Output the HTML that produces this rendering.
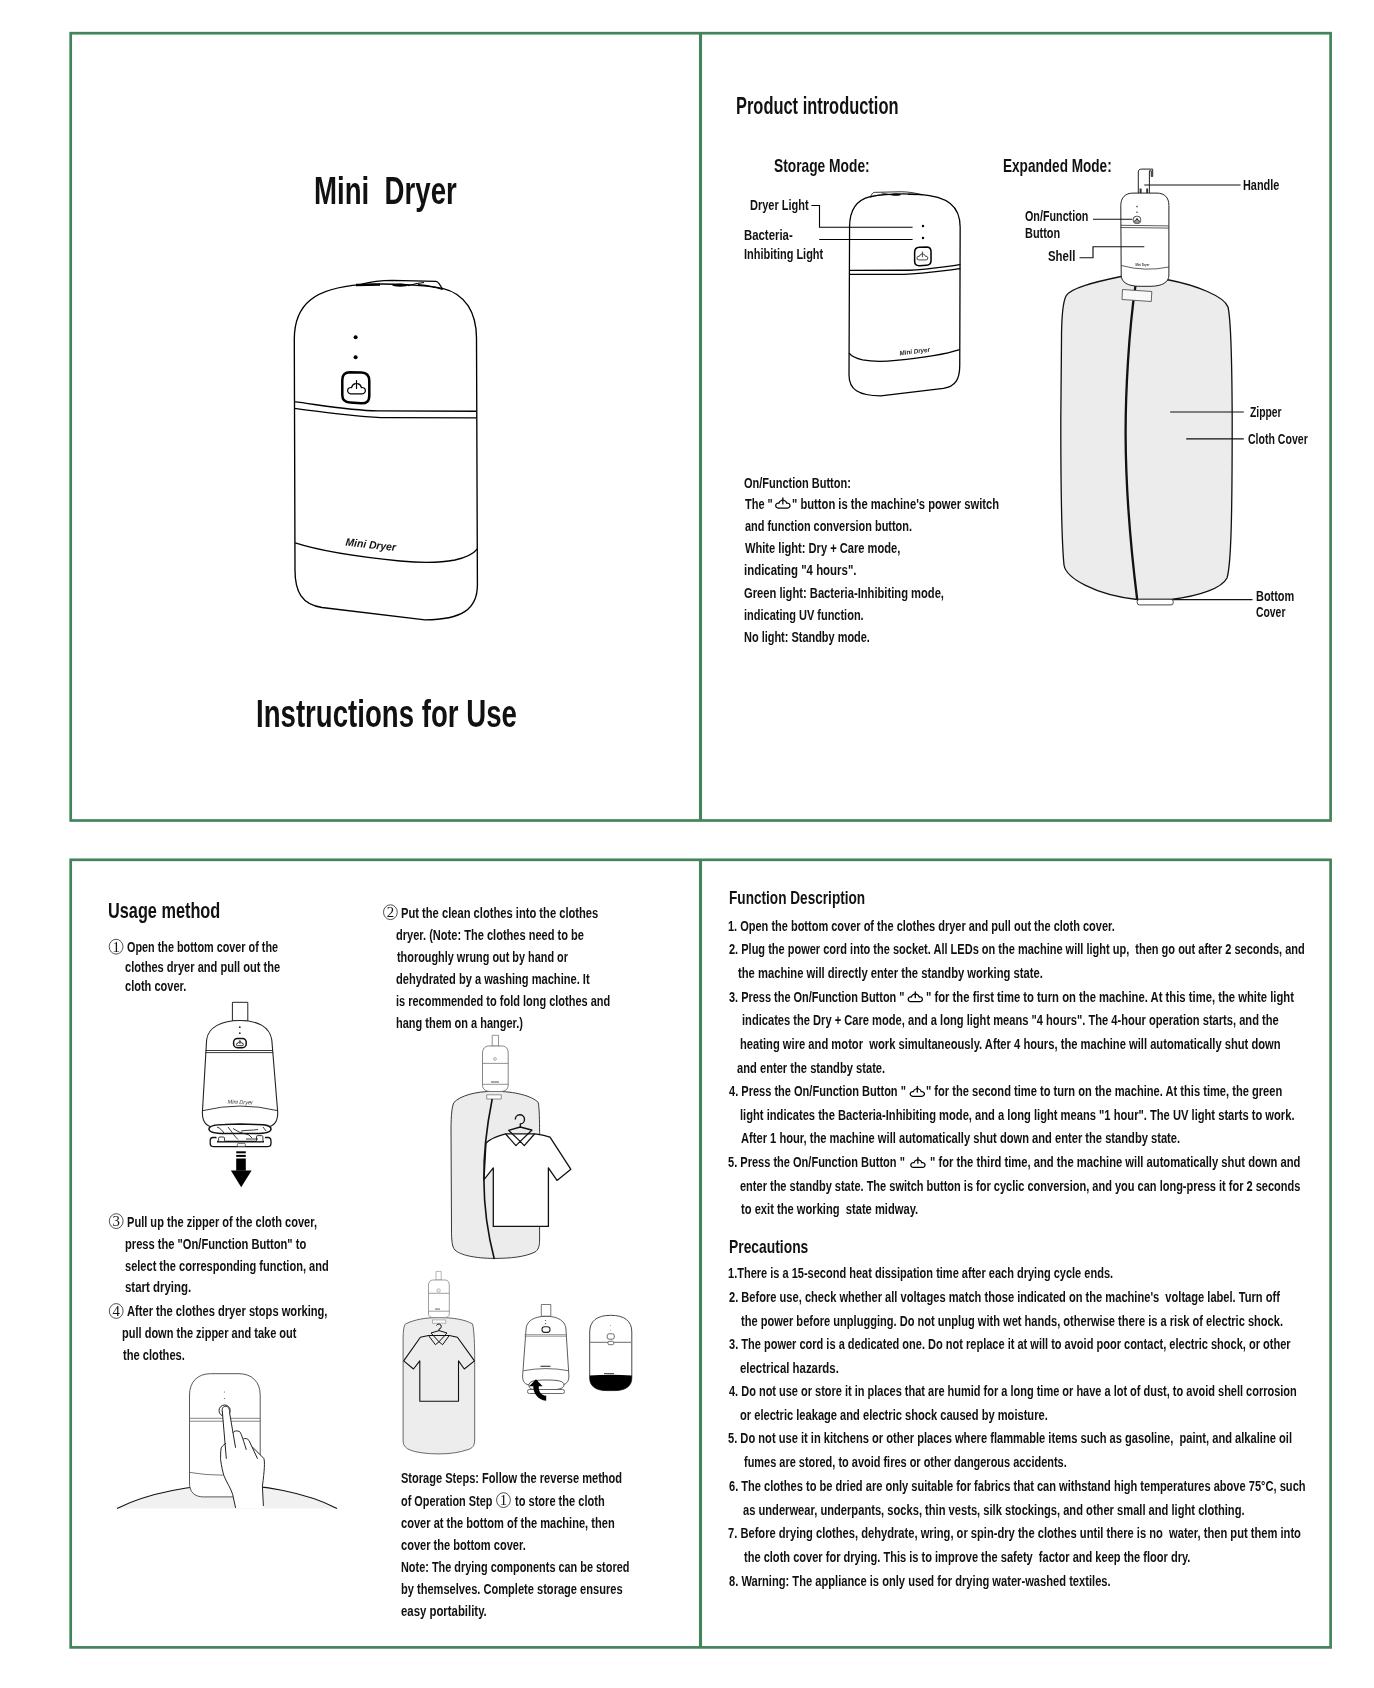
<!DOCTYPE html>
<html><head><meta charset="utf-8"><title>Mini Dryer - Instructions for Use</title>
<style>
html,body{margin:0;padding:0;background:#fff;}
body{width:1374px;height:1688px;position:relative;overflow:hidden;font-family:"Liberation Sans",sans-serif;}
.t{position:absolute;white-space:nowrap;font-weight:bold;line-height:1;color:#111;transform-origin:0 0;filter:grayscale(1);}
svg.art{position:absolute;left:0;top:0;will-change:transform;}
</style></head><body>
<svg class="art" width="1374" height="1688" viewBox="0 0 1374 1688">

<defs>
<symbol id="pw" viewBox="0 0 18 14" preserveAspectRatio="none" overflow="visible">
<path d="M10.2 3.35 A5 5 0 0 1 13.91 7.23 A3.1 3.1 0 1 1 14.8 13.3 L3.2 13.3 A3.1 3.1 0 1 1 4.09 7.23 A5 5 0 0 1 7.8 3.35 M9 0.2 V8" fill="none" stroke="#000" stroke-linejoin="round" stroke-linecap="round"/>
</symbol>
<g id="dev">
<path d="M294.3 340 C294 303 316 288 361 284.6 C390 283 425 285 442.5 288.3 C466 294 476.3 313 476.5 338 L477.4 585 C477.4 609 462 619.8 425 619.8 L322 607.5 C302 604.5 295 592 295 570 Z" fill="#fff"/>
<path d="M360.9 284.4 C370 282 380 280.4 392 280.3 L435.9 281.3 C438.5 281.6 440.5 285 442.4 289.6" fill="none" stroke-width="1.3"/>
<path d="M356 285 L380 284.6" fill="none" stroke-width="2.3"/>
<ellipse cx="400.2" cy="285.1" rx="8" ry="1.7" fill="#000" stroke="none"/>
<path d="M408 285.6 C414 284 418 283 424 282.5 M418 284.6 C428 285.5 436 287 442.4 289.6" fill="none" stroke-width="1.1"/>

<path d="M294 401.7 C320 405 350 410.5 378 410.9 L476.4 411.2 M294 408.3 C325 412 355 417 387 417.7 L476.4 417.8" fill="none"/>
<path d="M295.2 542.9 C320 551 360 557 400 561 C420 563 440 563 455 560 C468 557 474 553 477.4 548.8" fill="none"/>
<path d="M342.3 380 C342.3 374.5 345 372.3 350 372.3 L361.5 372.6 C366.8 372.8 369.3 375.5 369.3 381 L369.3 395.5 C369.3 401.5 366.5 403.6 361 403.3 L350 402.6 C345 402.3 342.3 399.8 342.3 395 Z" fill="none" stroke-width="2.5"/>
<use href="#pw" x="347.5" y="380.3" width="18" height="14.2" stroke-width="1.2"/>
<circle cx="355.6" cy="337.3" r="2" fill="#000" stroke="none"/>
<circle cx="355.6" cy="357.3" r="2" fill="#000" stroke="none"/>
</g>
</defs>

<g>
<!-- frames -->
<g fill="none" stroke="#44845b" stroke-width="2.7">
<rect x="70.7" y="33.2" width="1259.9" height="787.3"/>
<line x1="700.5" y1="33.2" x2="700.5" y2="820.5" stroke-width="3.1"/>
<rect x="70.7" y="859.8" width="1259.9" height="787.6"/>
<line x1="700.5" y1="859.8" x2="700.5" y2="1647.4" stroke-width="3.1"/>
</g>
<!-- big device -->
<use href="#dev" stroke="#000" stroke-width="1.35" fill="none"/>
<text x="0" y="0" transform="translate(345.3 545.6) rotate(6.2)" font-family="Liberation Sans" font-weight="bold" font-style="italic" font-size="10.8" fill="#111" textLength="50.5" lengthAdjust="spacingAndGlyphs">Mini Dryer</text>
<!-- storage mode device (mirrored) -->
<use href="#dev" stroke="#000" stroke-width="2.1" fill="none" transform="matrix(-0.607 0 0 0.601 1138.8 23.3)"/>
<text x="0" y="0" transform="translate(899.8 355.4) rotate(-7)" font-family="Liberation Sans" font-weight="bold" font-style="italic" font-size="6.6" fill="#222" textLength="30.6" lengthAdjust="spacingAndGlyphs">Mini Dryer</text>
<!-- storage mode leaders -->
<g fill="none" stroke="#000" stroke-width="1.1">
<path d="M811.4 205.5 H819.5 V227.3 H912.6"/>
<path d="M819.2 239.5 H912.6"/>
</g>
</g>

<!-- ===== Expanded mode ===== -->
<g stroke-linejoin="round">
<path d="M1121 276.5 C1095 282 1070 288 1066 296 C1062 304 1061.5 320 1061.5 340 L1060.8 420 C1060.8 480 1061.5 540 1064 565 C1066 578 1095 595 1137 599.5 L1171 599.5 C1200 596 1222 588 1227 578 C1231 565 1232.2 520 1232.2 420 C1232 360 1231 320 1228 307 C1224 296 1195 285 1169 280 Z" fill="#ececec" stroke="#111" stroke-width="1.3"/>
<path d="M1135.4 286.2 C1129 330 1125.5 390 1125.6 434.7 C1125.8 490 1131 550 1137.2 599.5" fill="none" stroke="#111" stroke-width="2.3"/>
<path d="M1122.5 289.5 L1151.8 291.5 L1151.3 301.5 L1122 299.5 Z" fill="#f9f9f9" stroke="#555" stroke-width="0.9"/>
<rect x="1137.2" y="599.3" width="36" height="5.6" rx="2.2" fill="#fff" stroke="#333" stroke-width="0.9"/>
<!-- handle -->
<path d="M1138.3 193.3 V172 C1138.3 170.2 1139.4 169.1 1141.2 169.1 H1152.7 V176.4 H1151.3 V170.8 H1149.4 V193.5" fill="#fff" stroke="#222" stroke-width="1"/>
<rect x="1139.6" y="188.5" width="2" height="4.8" fill="#333"/>
<rect x="1146.2" y="188.5" width="1.9" height="4.8" fill="#333"/>
<!-- device -->
<path d="M1120.8 205.5 C1120.8 197.5 1125.5 193.1 1133 193.1 L1157 193.1 C1164.5 193.1 1168.9 197.5 1168.9 205.5 L1168.9 275 C1168.9 282.5 1162 286.3 1150 286.3 L1140 286.3 C1128 286.3 1121.2 282.5 1121.2 275 Z" fill="#fff" stroke="#222" stroke-width="1"/>
<path d="M1120.8 225.3 L1168.9 225.9 M1120.8 227.5 L1168.9 228.1 M1121.2 265.5 Q1145 272 1168.9 267" fill="none" stroke="#333" stroke-width="0.8"/>
<circle cx="1137" cy="206.6" r="0.8" fill="#444"/><circle cx="1137" cy="212.2" r="0.8" fill="#444"/>
<rect x="1133.3" y="216.3" width="7.4" height="7.2" rx="3" fill="#fff" stroke="#333" stroke-width="0.9"/>
<use href="#pw" x="1134.6" y="218.3" width="4.8" height="3.9" stroke-width="3"/>
<text x="1135.4" y="266.3" font-family="Liberation Sans" font-weight="bold" font-size="3.6" fill="#333" textLength="14" lengthAdjust="spacingAndGlyphs">Mini Dryer</text>
</g>
<g fill="none" stroke="#111" stroke-width="1.15">
<path d="M1144.3 185 H1240.6"/>
<path d="M1093 219.2 H1132.3"/>
<path d="M1079.5 257.7 H1093 V246.7 H1144.3"/>
<path d="M1170.2 412 H1243.8"/>
<path d="M1186.2 438.9 H1243.8"/>
<path d="M1173 599.6 H1252.5"/>
</g>

<!-- ===== Step 1 device with arrow ===== -->
<g stroke-linejoin="round">
<rect x="232.4" y="1002.3" width="15.4" height="18.6" fill="#fff" stroke="#222" stroke-width="1"/>
<path d="M206.6 1040 C208 1027 222 1020.5 240 1020.5 C258 1020.5 270 1027 271.8 1040 L277.7 1112 C278 1122 274 1126.5 266 1127 L214 1127 C206 1126.5 202.2 1122 202.4 1112 Z" fill="#fff" stroke="#222" stroke-width="1.1"/>
<path d="M205.6 1050.5 H273 M205.5 1052.6 H273.2 M203 1110.6 Q240 1101.5 277.5 1110.6" fill="none" stroke="#222" stroke-width="0.9"/>
<circle cx="239.8" cy="1027.2" r="0.9" fill="#222"/><circle cx="239.8" cy="1033.2" r="0.9" fill="#222"/>
<rect x="233.6" y="1038.5" width="12.6" height="9.2" rx="3.8" fill="#fff" stroke="#111" stroke-width="1.5"/>
<use href="#pw" x="236.4" y="1040.3" width="7" height="5.7" stroke-width="2"/>
<text x="0" y="0" transform="translate(227.5 1103.6) rotate(2)" font-family="Liberation Sans" font-style="italic" font-size="5.6" fill="#333" textLength="25.5" lengthAdjust="spacingAndGlyphs">Mini Dryer</text>
<path d="M213 1137.5 L268 1137.5 C270.5 1137.5 271 1139 271 1141.5 L271 1143.5 C271 1145.5 269.5 1146.7 267 1146.7 L214 1146.7 C211.5 1146.7 210.2 1145.5 210.2 1143.5 L210.2 1141 C210.2 1139 211 1137.5 213 1137.5 Z" fill="#fff" stroke="#111" stroke-width="1.3"/>
<path d="M215 1133 L266 1133 L264 1141.8 L218 1141.8 Z" fill="#fff"/>
<path d="M217 1141.6 L264 1141.6" stroke="#111" stroke-width="1.6"/>
<rect x="218.6" y="1137" width="5.9" height="4.6" rx="1.2" fill="#fff" stroke="#222" stroke-width="0.9"/>
<rect x="256.5" y="1135.6" width="6.4" height="6" rx="1.2" fill="#fff" stroke="#222" stroke-width="0.9"/>
<rect x="237.4" y="1143.4" width="8" height="3" rx="1" fill="#fff" stroke="#333" stroke-width="0.7"/>
<path d="M209 1129 C209 1125.5 215 1124.6 225 1124.5 L240 1124 L256 1124.5 C266 1124.6 271 1125.5 271 1129 C271 1132.5 266 1133.5 256 1133.6 L225 1133.6 C215 1133.5 209 1132.5 209 1129 Z" fill="#fff" stroke="#111" stroke-width="1.5"/>
<path d="M217 1127 C220 1128 222 1130 224 1133.2 M228 1127 C232 1132 235 1137 238 1139.5 M233 1128.5 L239 1132 L249 1135 L252 1138 M241 1131 C246 1130 252 1130.5 258 1129.5 M263 1127 L266 1131 M246 1139 L258 1139" fill="none" stroke="#222" stroke-width="0.9"/>
<rect x="236.2" y="1151.3" width="9.6" height="2" fill="#000"/>
<rect x="236.2" y="1154.9" width="9.6" height="2" fill="#000"/>
<rect x="236.2" y="1158.5" width="9.6" height="12.2" fill="#000"/>
<path d="M230.9 1170.4 L251.6 1170.4 L241.2 1187.2 Z" fill="#000"/>
</g>

<!-- ===== Hand pressing ===== -->
<path d="M117 1508.4 C150 1492 195 1485 227 1484.7 C262 1485 305 1492 337 1508.4 Z" fill="#f1f1f1"/>
<path d="M117 1508.4 C150 1492 195 1485 227 1484.7 C262 1485 305 1492 337 1508.4" fill="none" stroke="#111" stroke-width="1.1"/>
<path d="M210.5 1373.7 L239 1373.7 C252 1373.7 260.2 1382 260.2 1395 L260.2 1483 C260.2 1492 255 1496.9 246 1496.9 L203.5 1496.9 C194.5 1496.9 189.5 1492 189.5 1483 L189.5 1395 C189.5 1382 197.5 1373.7 210.5 1373.7 Z" fill="#fff" stroke="#444" stroke-width="0.9"/>
<path d="M189.5 1418.3 H260.2 M189.5 1421.2 H260.2" fill="none" stroke="#777" stroke-width="0.9"/>
<path d="M189.5 1472.4 Q205 1475.2 223.5 1475.2" fill="none" stroke="#555" stroke-width="0.8"/>
<circle cx="224.4" cy="1392" r="0.6" fill="#555"/><circle cx="224.4" cy="1398.5" r="0.6" fill="#555"/>
<circle cx="224.6" cy="1410.6" r="5.6" fill="#fff" stroke="#222" stroke-width="1"/>
<path d="M222.3 1411.3 C221.5 1408 223.5 1406 225.9 1406.3 C228.5 1406.5 229.8 1409 229.6 1412.9 L233.2 1432.5 C234 1430.5 237 1430.5 239.5 1431.5 C241 1433 242 1436 243.5 1438.8 C245 1438 247.5 1438.5 249 1440.5 L252.5 1447.1 L263.8 1458.4 C265 1462 264.5 1470 262.4 1486.3 L263.4 1508 L235.5 1508 L232.6 1494.2 C231 1489 227 1483 223.9 1475.6 C222.5 1471 221.5 1466 220.6 1459.7 C220.6 1458 220.5 1452 221 1449.1 C221 1447 223 1445.5 225.6 1443.5 Z" fill="#fff"/>
<g fill="none" stroke="#222" stroke-width="1" stroke-linecap="round">
<path d="M222.3 1411.3 C221.5 1408 223.5 1406 225.9 1406.3 C228.5 1406.5 229.8 1409 229.6 1412.9 L235.5 1447.4"/>
<path d="M222.3 1411.3 L226.3 1458.4"/>
<path d="M233.2 1432.5 C234 1430.5 237 1430.5 239.5 1431.5 C241 1433 242 1436 246.2 1449.4"/>
<path d="M243.5 1438.8 C245 1438 247.5 1438.5 249 1440.5 L257.4 1458.4"/>
<path d="M252.5 1447.1 L263.8 1458.4 C265 1462 264.5 1470 262.4 1486.3 L263.4 1505.5"/>
<path d="M225.6 1443.5 C223 1445.5 221 1447 221 1449.1 C220.5 1452 220.6 1458 220.6 1459.7 C221.5 1466 222.5 1471 223.9 1475.6 C227 1483 231 1489 232.6 1494.2 L235.5 1507.5"/>
</g>

<!-- ===== Step 2 bag with shirt ===== -->
<g stroke-linejoin="round">
<rect x="492.2" y="1035.3" width="6.3" height="10.9" fill="#fff" stroke="#777" stroke-width="0.8"/>
<path d="M454 1102.4 C460 1096 475 1091.3 494.3 1091.3 C515 1091.3 532 1096 538.2 1102.4 C540 1110 539.6 1140 539.6 1170 L539.6 1240 C539.6 1247 538 1250 535 1252 C525 1257 510 1258.4 494.3 1258.4 C475 1258.4 460 1255 455 1250 C452 1247 451.5 1240 451.5 1230 L451 1130 C451 1115 452 1106 454 1102.4 Z" fill="#ececec" stroke="#222" stroke-width="0.9"/>
<path d="M488.5 1046 L502.5 1046 C506 1046 508.2 1049 508.2 1053 L508.2 1085 C508.2 1089.5 505 1091.5 500 1091.5 L491 1091.5 C486 1091.5 482.5 1089.5 482.5 1085 L482.5 1053 C482.5 1049 485 1046 488.5 1046 Z" fill="#fff" stroke="#666" stroke-width="0.8"/>
<path d="M482.5 1063.4 H508.2 M482.5 1084.3 H508.2" fill="none" stroke="#777" stroke-width="0.8"/>
<circle cx="495" cy="1059" r="1.4" fill="none" stroke="#777" stroke-width="0.6"/>
<rect x="491" y="1081.5" width="8" height="1" fill="#555"/>
<rect x="486.7" y="1094.8" width="14.6" height="4.2" fill="#fff" stroke="#666" stroke-width="0.7"/>
<path d="M486 1143 C490 1139 497 1136 505.5 1133.8 L534.7 1133.8 C540 1134.5 546 1135.5 550 1137.2 L570.9 1169.3 L557 1180.4 L548.4 1167.9 L548.4 1226.4 L493.3 1226.4 L493.3 1167.9 L484 1179.7 Z" fill="#fff" stroke="#111" stroke-width="1.3"/>
<path d="M492.2 1099 C486 1130 483.5 1160 483.9 1180 C484 1210 488 1235 494.3 1259" fill="none" stroke="#111" stroke-width="1.6"/>
<path d="M505.5 1133.8 L515.9 1145.6 L520.2 1141.4 L524.3 1145.6 L534.7 1133.8 M508.5 1130.3 L520.2 1141.4 L531.8 1130.3" fill="none" stroke="#111" stroke-width="1.3"/>
<path d="M515.3 1119.5 A4.6 4.6 0 1 1 520.3 1124 L520.3 1127.3 M508.5 1130.3 L520.3 1127 L532.4 1130.3" fill="none" stroke="#111" stroke-width="1.4"/>
</g>

<!-- ===== Storage: small bag with shirt ===== -->
<g stroke-linejoin="round">
<rect x="436" y="1271.4" width="5.2" height="8.6" fill="#fff" stroke="#999" stroke-width="0.7"/>
<path d="M405.5 1323.9 C415 1319.5 425 1317.6 439 1317.6 C453 1317.6 465 1319.5 472.5 1323.9 C474.2 1330 474.7 1345 474.7 1360 L474.7 1440 C474.7 1446 472 1448.5 468 1449.5 C460 1452.5 450 1453.9 439 1453.9 C428 1453.9 415 1452.5 409 1449.5 C405 1447.5 403.1 1445 403.1 1440 L403.1 1340 C403.1 1330 404 1325.5 405.5 1323.9 Z" fill="#ededed" stroke="#444" stroke-width="0.8"/>
<path d="M433 1280 L445 1280 C447.8 1280 449.3 1282 449.3 1285 L449.3 1314 C449.3 1316.5 447.5 1317.6 444 1317.6 L434 1317.6 C430.5 1317.6 428.5 1316.5 428.5 1314 L428.5 1285 C428.5 1282 430 1280 433 1280 Z" fill="#fff" stroke="#777" stroke-width="0.7"/>
<path d="M428.5 1293.3 H449.3 M428.5 1311.2 H449.3" fill="none" stroke="#888" stroke-width="0.8"/>
<rect x="437" y="1289" width="3.2" height="3" rx="1" fill="none" stroke="#888" stroke-width="0.6"/>
<rect x="435" y="1308.6" width="5" height="0.9" fill="#555"/>
<rect x="432.5" y="1319.9" width="13.3" height="3.4" fill="#fafafa" stroke="#888" stroke-width="0.6"/>
<path d="M420.4 1337.2 L403.7 1360.9 L413.5 1369 L419.8 1360.9 L419.8 1401.3 L458.5 1401.3 L458.5 1360.9 L464.3 1369 L474.5 1360.9 L457.4 1337.2 L449.3 1335.5 L428.5 1335.5 Z" fill="none" stroke="#111" stroke-width="1.1"/>
<path d="M428.5 1335.5 L435.4 1344.7 L439 1341.8 L442.6 1344.7 L449.3 1335.5 M431 1333 L439 1341.8 L447 1333" fill="none" stroke="#111" stroke-width="1"/>
<path d="M436.5 1325.5 A2.5 2.5 0 1 1 439 1329 L439 1331 M431 1333 L439 1330.6 L447 1333" fill="none" stroke="#111" stroke-width="1"/>
</g>

<!-- ===== Storage: device A with arrow ===== -->
<g stroke-linejoin="round">
<rect x="541.3" y="1304.5" width="9.5" height="11.8" fill="#fff" stroke="#555" stroke-width="0.8"/>
<path d="M526 1330 C526 1321 534 1316.3 546 1316.3 C558 1316.3 566 1321 566 1330 L568.9 1376 C568.9 1382 566 1385 560 1385 L531 1385 C525 1385 522.6 1382 522.6 1376 Z" fill="#fff" stroke="#333" stroke-width="0.8"/>
<path d="M524.5 1334.7 H567 M524.5 1336.2 H567" fill="none" stroke="#777" stroke-width="0.8"/>
<circle cx="545.5" cy="1320.5" r="0.6" fill="#444"/><circle cx="545.5" cy="1323.6" r="0.6" fill="#444"/>
<rect x="542" y="1326.7" width="8" height="5.7" rx="2.6" fill="#fff" stroke="#222" stroke-width="1.1"/>
<rect x="540.5" y="1365.7" width="10" height="1.2" fill="#444"/>
<path d="M523.5 1370.7 Q546 1366.5 568.5 1370.7" fill="none" stroke="#444" stroke-width="0.8"/>
<path d="M529 1386 C528 1381 535 1380 546 1380 C558 1380 564 1381 564 1385 C564 1389 557 1390 546 1390 C536 1390 529 1390 529 1386 Z" fill="#fff" stroke="#333" stroke-width="0.8"/>
<rect x="527.5" y="1389.5" width="37" height="4" rx="1.8" fill="#fff" stroke="#444" stroke-width="0.8"/>
<path d="M536 1379.2 L529.2 1386.2 L533.3 1386.2 C533 1392.5 537.5 1400 546.2 1400.8 L546.2 1395.8 C541 1395.3 538.3 1391.2 538.8 1386.2 L542.6 1386.2 Z" fill="#000"/>
</g>

<!-- ===== Storage: device B ===== -->
<g stroke-linejoin="round">
<path d="M589.7 1332 C589.7 1321 597 1315.3 610.7 1315.3 C624.5 1315.3 631.8 1321 631.8 1332 L631.8 1378 C631.8 1386 626 1390.6 614 1390.6 L607 1390.6 C595.5 1390.6 589.7 1386 589.7 1378 Z" fill="#fff" stroke="#333" stroke-width="0.9"/>
<path d="M589.7 1342.3 H631.8" fill="none" stroke="#888" stroke-width="1.2"/>
<circle cx="610.6" cy="1325.6" r="0.5" fill="#888"/><circle cx="610.6" cy="1330" r="0.5" fill="#888"/>
<rect x="607.2" y="1333.8" width="7.1" height="5.4" rx="2" fill="#fff" stroke="#444" stroke-width="0.8"/>
<rect x="608" y="1341.3" width="5.6" height="3.4" rx="1.2" fill="#fff" stroke="#444" stroke-width="0.8"/>
<rect x="604" y="1373" width="10" height="1.1" fill="#555"/>
<path d="M589.7 1375.6 Q610.7 1374 631.8 1375.6 L631.8 1378 C631.8 1386 626 1390.6 614 1390.6 L607 1390.6 C595.5 1390.6 589.7 1386 589.7 1378 Z" fill="#000"/>
</g>

<!-- ===== circled numbers ===== -->
<g fill="none" stroke="#333" stroke-width="0.85">
<ellipse cx="116.1" cy="946.7" rx="6.9" ry="7.4"/>
<ellipse cx="390.4" cy="912.2" rx="6.9" ry="7.4"/>
<ellipse cx="116.2" cy="1221.1" rx="6.9" ry="7.4"/>
<ellipse cx="116.2" cy="1311" rx="6.9" ry="7.4"/>
<ellipse cx="503.45" cy="1500.1" rx="6.9" ry="7.4"/>
</g>
<g font-family="Liberation Serif" font-size="14.8" fill="#111" text-anchor="middle">
<text x="116.1" y="951.6">1</text>
<text x="390.4" y="917.1">2</text>
<text x="116.2" y="1226">3</text>
<text x="116.2" y="1315.9">4</text>
<text x="503.45" y="1505">1</text>
</g>
<!-- inline power icons -->
<use href="#pw" x="775.6" y="497.6" width="14.5" height="11" stroke-width="1.55"/>
<use href="#pw" x="908.1" y="991.6" width="14.4" height="10.6" stroke-width="1.6"/>
<use href="#pw" x="910.1" y="1086.2" width="14.4" height="10.6" stroke-width="1.6"/>
<use href="#pw" x="910.7" y="1157.3" width="14.4" height="10.6" stroke-width="1.6"/>

</svg>
<div class="t" style="left:313.90px;top:171.30px;font-size:39.49px;transform:scaleX(0.6995)">Mini&nbsp; Dryer</div>
<div class="t" style="left:255.59px;top:693.70px;font-size:39.21px;transform:scaleX(0.7044)">Instructions for Use</div>
<div class="t" style="left:735.89px;top:94.80px;font-size:23.3px;transform:scaleX(0.7053)">Product introduction</div>
<div class="t" style="left:773.55px;top:157.10px;font-size:18.28px;transform:scaleX(0.7540)">Storage Mode:</div>
<div class="t" style="left:1003.16px;top:157.30px;font-size:18.28px;transform:scaleX(0.7438)">Expanded Mode:</div>
<div class="t" style="left:750.33px;top:197.70px;font-size:14.23px;transform:scaleX(0.7733)">Dryer Light</div>
<div class="t" style="left:744.00px;top:227.50px;font-size:14.23px;transform:scaleX(0.8000)">Bacteria-</div>
<div class="t" style="left:744.03px;top:246.80px;font-size:14.23px;transform:scaleX(0.7716)">Inhibiting Light</div>
<div class="t" style="left:1243.06px;top:178.40px;font-size:14.79px;transform:scaleX(0.7375)">Handle</div>
<div class="t" style="left:1025.26px;top:209.10px;font-size:14.51px;transform:scaleX(0.7417)">On/Function</div>
<div class="t" style="left:1025.25px;top:226.20px;font-size:14.51px;transform:scaleX(0.7533)">Button</div>
<div class="t" style="left:1047.71px;top:249.10px;font-size:14.51px;transform:scaleX(0.7879)">Shell</div>
<div class="t" style="left:1250.10px;top:405.30px;font-size:14.79px;transform:scaleX(0.7000)">Zipper</div>
<div class="t" style="left:1248.39px;top:432.10px;font-size:14.79px;transform:scaleX(0.7133)">Cloth Cover</div>
<div class="t" style="left:1256.06px;top:588.80px;font-size:14.79px;transform:scaleX(0.7400)">Bottom</div>
<div class="t" style="left:1256.10px;top:605.20px;font-size:14.79px;transform:scaleX(0.7024)">Cover</div>
<div class="t" style="left:743.85px;top:475.60px;font-size:14.65px;transform:scaleX(0.7507)">On/Function Button:</div>
<div class="t" style="left:744.70px;top:497.30px;font-size:14.65px;transform:scaleX(0.7500)">The "</div>
<div class="t" style="left:792.23px;top:497.30px;font-size:14.65px;transform:scaleX(0.7651)">" button is the machine's power switch</div>
<div class="t" style="left:744.60px;top:519.20px;font-size:14.65px;transform:scaleX(0.7466)">and function conversion button.</div>
<div class="t" style="left:744.60px;top:541.20px;font-size:14.65px;transform:scaleX(0.7593)">White light: Dry + Care mode,</div>
<div class="t" style="left:743.82px;top:563.40px;font-size:14.65px;transform:scaleX(0.7810)">indicating "4 hours".</div>
<div class="t" style="left:743.84px;top:585.60px;font-size:14.65px;transform:scaleX(0.7635)">Green light: Bacteria-Inhibiting mode,</div>
<div class="t" style="left:743.85px;top:607.80px;font-size:14.65px;transform:scaleX(0.7506)">indicating UV function.</div>
<div class="t" style="left:743.85px;top:630.00px;font-size:14.65px;transform:scaleX(0.7479)">No light: Standby mode.</div>
<div class="t" style="left:108.29px;top:899.00px;font-size:22.88px;transform:scaleX(0.7123)">Usage method</div>
<div class="t" style="left:126.96px;top:940.10px;font-size:14.65px;transform:scaleX(0.7399)">Open the bottom cover of the</div>
<div class="t" style="left:125.14px;top:960.10px;font-size:14.65px;transform:scaleX(0.7564)">clothes dryer and pull out the</div>
<div class="t" style="left:125.15px;top:979.40px;font-size:14.65px;transform:scaleX(0.7537)">cloth cover.</div>
<div class="t" style="left:126.84px;top:1214.80px;font-size:14.65px;transform:scaleX(0.7560)">Pull up the zipper of the cloth cover,</div>
<div class="t" style="left:125.14px;top:1236.70px;font-size:14.65px;transform:scaleX(0.7603)">press the "On/Function Button" to</div>
<div class="t" style="left:125.15px;top:1259.00px;font-size:14.65px;transform:scaleX(0.7541)">select the corresponding function, and</div>
<div class="t" style="left:125.12px;top:1280.30px;font-size:14.65px;transform:scaleX(0.7819)">start drying.</div>
<div class="t" style="left:127.10px;top:1303.60px;font-size:14.65px;transform:scaleX(0.7605)">After the clothes dryer stops working,</div>
<div class="t" style="left:122.35px;top:1325.80px;font-size:14.65px;transform:scaleX(0.7528)">pull down the zipper and take out</div>
<div class="t" style="left:123.10px;top:1347.60px;font-size:14.65px;transform:scaleX(0.7605)">the clothes.</div>
<div class="t" style="left:401.34px;top:905.80px;font-size:14.65px;transform:scaleX(0.7626)">Put the clean clothes into the clothes</div>
<div class="t" style="left:396.44px;top:927.80px;font-size:14.65px;transform:scaleX(0.7552)">dryer. (Note: The clothes need to be</div>
<div class="t" style="left:397.20px;top:950.00px;font-size:14.65px;transform:scaleX(0.7426)">thoroughly wrung out by hand or</div>
<div class="t" style="left:396.44px;top:972.20px;font-size:14.65px;transform:scaleX(0.7579)">dehydrated by a washing machine. It</div>
<div class="t" style="left:396.45px;top:994.20px;font-size:14.65px;transform:scaleX(0.7504)">is recommended to fold long clothes and</div>
<div class="t" style="left:396.45px;top:1016.40px;font-size:14.65px;transform:scaleX(0.7506)">hang them on a hanger.)</div>
<div class="t" style="left:401.25px;top:1471.30px;font-size:14.65px;transform:scaleX(0.7550)">Storage Steps: Follow the reverse method</div>
<div class="t" style="left:401.26px;top:1493.50px;font-size:14.65px;transform:scaleX(0.7443)">of Operation Step</div>
<div class="t" style="left:515.20px;top:1493.50px;font-size:14.65px;transform:scaleX(0.7551)">to store the cloth</div>
<div class="t" style="left:401.24px;top:1515.50px;font-size:14.65px;transform:scaleX(0.7569)">cover at the bottom of the machine, then</div>
<div class="t" style="left:401.24px;top:1537.70px;font-size:14.65px;transform:scaleX(0.7552)">cover the bottom cover.</div>
<div class="t" style="left:401.26px;top:1559.90px;font-size:14.65px;transform:scaleX(0.7446)">Note: The drying components can be stored</div>
<div class="t" style="left:401.24px;top:1581.90px;font-size:14.65px;transform:scaleX(0.7564)">by themselves. Complete storage ensures</div>
<div class="t" style="left:401.22px;top:1604.10px;font-size:14.65px;transform:scaleX(0.7771)">easy portability.</div>
<div class="t" style="left:728.88px;top:889.20px;font-size:18.84px;transform:scaleX(0.7231)">Function Description</div>
<div class="t" style="left:728.45px;top:918.90px;font-size:14.65px;transform:scaleX(0.7511)">1. Open the bottom cover of the clothes dryer and pull out the cloth cover.</div>
<div class="t" style="left:729.20px;top:942.20px;font-size:14.65px;transform:scaleX(0.7519)">2. Plug the power cord into the socket. All LEDs on the machine will light up,&nbsp; then go out after 2 seconds, and</div>
<div class="t" style="left:737.70px;top:965.50px;font-size:14.65px;transform:scaleX(0.7660)">the machine will directly enter the standby working state.</div>
<div class="t" style="left:729.20px;top:989.70px;font-size:14.65px;transform:scaleX(0.7479)">3. Press the On/Function Button "</div>
<div class="t" style="left:926.03px;top:989.70px;font-size:14.65px;transform:scaleX(0.7694)">" for the first time to turn on the machine. At this time, the white light</div>
<div class="t" style="left:742.44px;top:1013.00px;font-size:14.65px;transform:scaleX(0.7596)">indicates the Dry + Care mode, and a long light means "4 hours". The 4-hour operation starts, and the</div>
<div class="t" style="left:739.84px;top:1036.50px;font-size:14.65px;transform:scaleX(0.7639)">heating wire and motor&nbsp; work simultaneously. After 4 hours, the machine will automatically shut down</div>
<div class="t" style="left:737.40px;top:1060.50px;font-size:14.65px;transform:scaleX(0.7619)">and enter the standby state.</div>
<div class="t" style="left:729.20px;top:1084.30px;font-size:14.65px;transform:scaleX(0.7538)">4. Press the On/Function Button "</div>
<div class="t" style="left:926.04px;top:1084.30px;font-size:14.65px;transform:scaleX(0.7592)">" for the second time to turn on the machine. At this time, the green</div>
<div class="t" style="left:739.84px;top:1107.60px;font-size:14.65px;transform:scaleX(0.7624)">light indicates the Bacteria-Inhibiting mode, and a long light means "1 hour". The UV light starts to work.</div>
<div class="t" style="left:740.60px;top:1131.20px;font-size:14.65px;transform:scaleX(0.7613)">After 1 hour, the machine will automatically shut down and enter the standby state.</div>
<div class="t" style="left:728.45px;top:1155.40px;font-size:14.65px;transform:scaleX(0.7536)">5. Press the On/Function Button "</div>
<div class="t" style="left:929.53px;top:1155.40px;font-size:14.65px;transform:scaleX(0.7660)">" for the third time, and the machine will automatically shut down and</div>
<div class="t" style="left:739.85px;top:1178.70px;font-size:14.65px;transform:scaleX(0.7519)">enter the standby state. The switch button is for cyclic conversion, and you can long-press it for 2 seconds</div>
<div class="t" style="left:740.60px;top:1202.00px;font-size:14.65px;transform:scaleX(0.7621)">to exit the working&nbsp; state midway.</div>
<div class="t" style="left:728.86px;top:1238.30px;font-size:18.84px;transform:scaleX(0.7358)">Precautions</div>
<div class="t" style="left:728.45px;top:1266.30px;font-size:14.65px;transform:scaleX(0.7524)">1.There is a 15-second heat dissipation time after each drying cycle ends.</div>
<div class="t" style="left:729.20px;top:1290.00px;font-size:14.65px;transform:scaleX(0.7583)">2. Before use, check whether all voltages match those indicated on the machine's&nbsp; voltage label. Turn off</div>
<div class="t" style="left:740.60px;top:1313.70px;font-size:14.65px;transform:scaleX(0.7563)">the power before unplugging. Do not unplug with wet hands, otherwise there is a risk of electric shock.</div>
<div class="t" style="left:729.20px;top:1337.40px;font-size:14.65px;transform:scaleX(0.7528)">3. The power cord is a dedicated one. Do not replace it at will to avoid poor contact, electric shock, or other</div>
<div class="t" style="left:739.82px;top:1360.70px;font-size:14.65px;transform:scaleX(0.7784)">electrical hazards.</div>
<div class="t" style="left:729.20px;top:1383.90px;font-size:14.65px;transform:scaleX(0.7505)">4. Do not use or store it in places that are humid for a long time or have a lot of dust, to avoid shell corrosion</div>
<div class="t" style="left:739.84px;top:1408.10px;font-size:14.65px;transform:scaleX(0.7594)">or electric leakage and electric shock caused by moisture.</div>
<div class="t" style="left:728.44px;top:1431.40px;font-size:14.65px;transform:scaleX(0.7601)">5. Do not use it in kitchens or other places where flammable items such as gasoline,&nbsp; paint, and alkaline oil</div>
<div class="t" style="left:743.50px;top:1455.30px;font-size:14.65px;transform:scaleX(0.7485)">fumes are stored, to avoid fires or other dangerous accidents.</div>
<div class="t" style="left:729.20px;top:1479.20px;font-size:14.65px;transform:scaleX(0.7570)">6. The clothes to be dried are only suitable for fabrics that can withstand high temperatures above 75°C, such</div>
<div class="t" style="left:743.20px;top:1502.50px;font-size:14.65px;transform:scaleX(0.7611)">as underwear, underpants, socks, thin vests, silk stockings, and other small and light clothing.</div>
<div class="t" style="left:728.44px;top:1526.30px;font-size:14.65px;transform:scaleX(0.7614)">7. Before drying clothes, dehydrate, wring, or spin-dry the clothes until there is no&nbsp; water, then put them into</div>
<div class="t" style="left:743.50px;top:1549.60px;font-size:14.65px;transform:scaleX(0.7551)">the cloth cover for drying. This is to improve the safety&nbsp; factor and keep the floor dry.</div>
<div class="t" style="left:729.20px;top:1573.50px;font-size:14.65px;transform:scaleX(0.7611)">8. Warning: The appliance is only used for drying water-washed textiles.</div>
</body></html>
